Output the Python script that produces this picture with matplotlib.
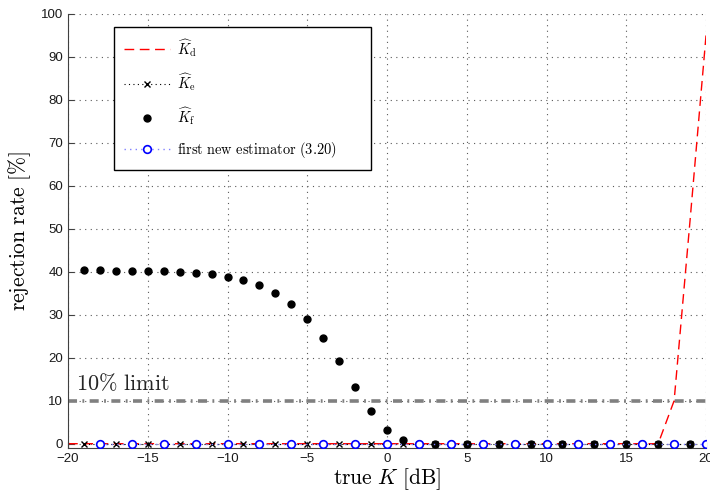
import numpy as np
import matplotlib
matplotlib.use("Agg")
import matplotlib.pyplot as plt

plt.rcParams["mathtext.fontset"] = "cm"
plt.rcParams["font.family"] = ["Liberation Sans", "DejaVu Sans"]

# true K [dB]
k_d_x = list(range(-20, 21))
k_d_y = [0] * 37 + [0, 10, 52, 95]          # -20..16 zeros, then 17..20

k_e_x = list(range(-19, 20, 2))
k_e_y = [0] * len(k_e_x)

k_f_x = list(range(-19, 20))
k_f_y = [40.5, 40.5, 40.3, 40.2, 40.2, 40.2, 40.0, 39.8, 39.4, 38.9,
         38.0, 36.9, 35.0, 32.5, 29.1, 24.7, 19.2, 13.2, 7.5, 3.3,
         0.9] + [0] * 18

new_x = list(range(-18, 21, 2))
new_y = [0] * len(new_x)

limit = 10

fig = plt.figure(figsize=(7.1, 4.96), dpi=100)
ax = fig.add_axes([0.0958, 0.0968, 0.8986, 0.875])

ax.axhline(limit, color="0.5", lw=2.6, linestyle=(0, (2.5, 1.5, 0.5, 1.5)), zorder=1)
ax.text(-19.5, 12.5, r"$\mathrm{10\%\ limit}$", fontsize=16, color="0.15")

l_d, = ax.plot(k_d_x, k_d_y, color="red", linestyle=(0, (7, 4)), lw=1.0, zorder=2,
               label=r"$\widehat{K}_\mathrm{d}$")
l_e, = ax.plot(k_e_x, k_e_y, color="black", linestyle=(0, (1, 3)), lw=0.8,
               marker="x", ms=4.5, mew=1.0, zorder=3, label=r"$\widehat{K}_\mathrm{e}$")
l_f, = ax.plot(k_f_x, k_f_y, color="black", linestyle="none", marker="o", ms=5,
               zorder=4, label=r"$\widehat{K}_\mathrm{f}$")
l_n, = ax.plot(new_x, new_y, color="#8080ff", linestyle=(0, (1, 3)), lw=1.0,
               marker="o", ms=5.5, mfc="white", mec="blue", mew=1.2, zorder=5,
               label=r"$\mathrm{first\ new\ estimator\ (3.20)}$")

ax.set_xlim(-20, 20)
ax.set_ylim(-1, 100)
ax.set_xticks(range(-20, 21, 5))
ax.set_yticks(range(0, 101, 10))
ax.grid(True, color="0.35", linestyle=(0, (1, 4)), lw=0.8)
ax.set_axisbelow(True)

for side in ["top", "right"]:
    ax.spines[side].set_visible(False)
for side in ["left", "bottom"]:
    ax.spines[side].set_color("0.25")
ax.tick_params(direction="in", length=4, labelsize=9.5, color="0.25", labelcolor="0.1")

ax.set_xlabel(r"$\mathrm{true}\ K\ \mathrm{[dB]}$", fontsize=15.5, labelpad=1)
ax.set_ylabel(r"$\mathrm{rejection\ rate\ [\%]}$", fontsize=15.5, labelpad=6)

leg = ax.legend(handles=[l_d, l_e, l_f, l_n], loc="upper left",
                bbox_to_anchor=(0.072, 0.5, 0.403, 0.469), mode="expand",
                fontsize=10.4, fancybox=False,
                edgecolor="black", framealpha=1, labelspacing=0.86,
                handlelength=3.2, handletextpad=0.5, borderpad=0.68,
                borderaxespad=0)
leg.get_frame().set_linewidth(1.0)

fig.savefig("out.png", dpi=100)
